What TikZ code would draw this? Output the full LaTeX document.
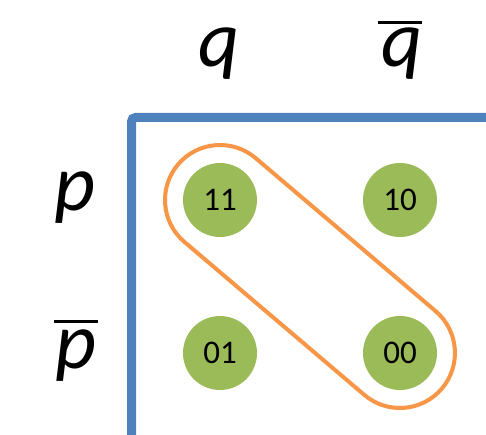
\documentclass[tikz,border=0pt]{standalone}
\usepackage{fontspec}
\setmainfont{Carlito}
\definecolor{frameblue}{HTML}{4F81BD}
\definecolor{dotgreen}{HTML}{9BBB59}
\definecolor{loopor}{HTML}{F79646}
\tikzset{
  frame/.style={draw=frameblue, line width=9pt, rounded corners=4pt},
  dot/.style={circle, fill=dotgreen, minimum size=74pt, inner sep=0pt, text=black, font=\fontsize{33}{33}\selectfont},
  varlab/.style={anchor=base, inner sep=0pt, font=\fontsize{80}{80}\selectfont\itshape},
  negbar/.style={draw=black, line width=3pt},
  grouploop/.style={draw=loopor, line width=4pt}
}
\begin{document}
\begin{tikzpicture}[x=1pt,y=1pt]
\useasboundingbox (0,0) rectangle (486,434);
\clip (0,0) rectangle (486,434);
\draw[frame] (131.5,-100) -- (131.5,316.5) -- (700,316.5);
\node[dot] (n11) at (220,234) {11};
\node[dot] (n10) at (400,234) {10};
\node[dot] (n01) at (220,81) {01};
\node[dot] (n00) at (400,81) {00};
\node[varlab] (q) at (219,367) {q};
\node[varlab] (qb) at (402,367) {q};
\node[varlab] (p) at (75,224) {p};
\node[varlab] (pb) at (76,66) {p};
\coordinate (qbl) at (378,411);
\coordinate (qbr) at (422,411);
\coordinate (pbl) at (54,113);
\coordinate (pbr) at (98,113);
\draw[negbar] (qbl) -- (qbr);
\draw[negbar] (pbl) -- (pbr);
\begin{scope}[shift={(n11.center)}, rotate=-40.37]
\draw[grouploop] (0,-55) -- (236.2,-55) arc (-90:90:55) -- (0,55) arc (90:270:55) -- cycle;
\end{scope}
\end{tikzpicture}
\end{document}
